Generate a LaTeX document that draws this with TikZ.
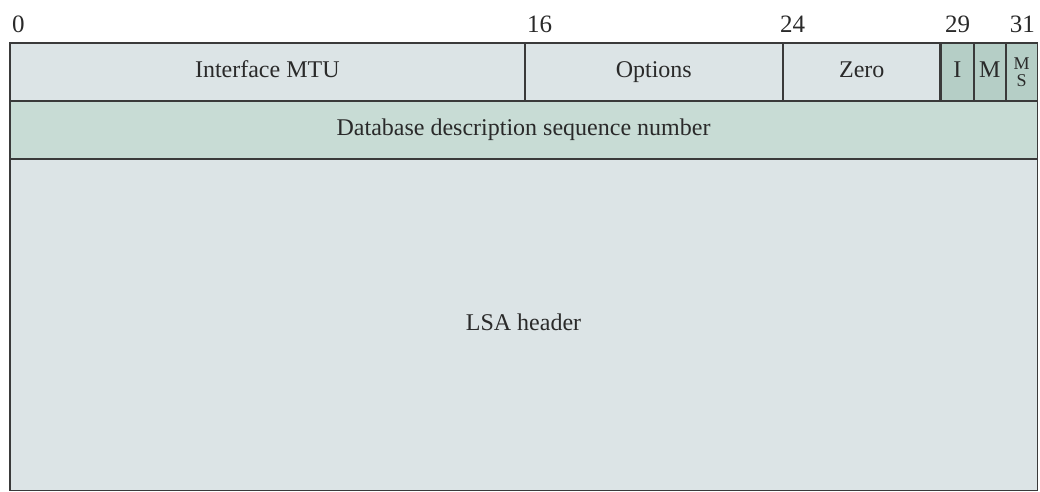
\documentclass[tikz,border=0pt]{standalone}
\usepackage{fontspec}
\setmainfont{Liberation Serif}
\definecolor{paleblue}{HTML}{DCE4E6}
\definecolor{seqteal}{HTML}{C8DCD5}
\definecolor{flagteal}{HTML}{B5CEC6}
\definecolor{linec}{HTML}{3A3A3A}
\definecolor{textc}{HTML}{2A2A2A}
\begin{document}
\begin{tikzpicture}[x=1pt,y=-1pt,
  field/.style={draw=linec, line width=1.6pt, fill=paleblue, inner sep=0pt,
    anchor=north west, text=textc, font=\fontsize{24}{26}\selectfont,
    text height=16pt, text depth=5pt},
  flagfield/.style={field, fill=flagteal},
  seqfield/.style={field, fill=seqteal},
  bitno/.style={inner sep=0pt, text=textc, font=\fontsize{25}{27}\selectfont}]
\useasboundingbox (0,0) rectangle (1040,491);

% first word: MTU, options, zero and the three flag bits
\node[field, minimum width=515pt, minimum height=58pt] (mtu) at (9,42) {Interface MTU};
\node[field, minimum width=258pt, minimum height=58pt] (opts) at (524,42) {Options};
\node[field, minimum width=158pt, minimum height=58pt] (zero) at (782,42) {Zero};
\node[flagfield, minimum width=33pt, minimum height=58pt] (ibit) at (940,42) {I};
\node[flagfield, minimum width=32pt, minimum height=58pt] (mbit) at (973,42) {M};
\node[flagfield, minimum width=31.5pt, minimum height=58pt, align=center,
  text height=, text depth=, font=\fontsize{18}{17}\selectfont] (msbit) at (1005,42) {M\\S};
\draw[linec, line width=3pt] (ibit.north west) -- (ibit.south west);

% second word and the LSA header area
\node[seqfield, minimum width=1027.5pt, minimum height=58pt] (seq) at (9,100)
  {Database description sequence number};
\node[field, minimum width=1027.5pt, minimum height=331.5pt] (lsa) at (9,158) {LSA header};

% bit positions
\node[bitno, anchor=base west] (b0) at (12,32) {0};
\node[bitno, anchor=base west] (b16) at (527,32) {16};
\node[bitno, anchor=base west] (b24) at (780,32) {24};
\node[bitno, anchor=base west] (b29) at (945,32) {29};
\node[bitno, anchor=base east] (b31) at (1035,32) {31};
\end{tikzpicture}
\end{document}
